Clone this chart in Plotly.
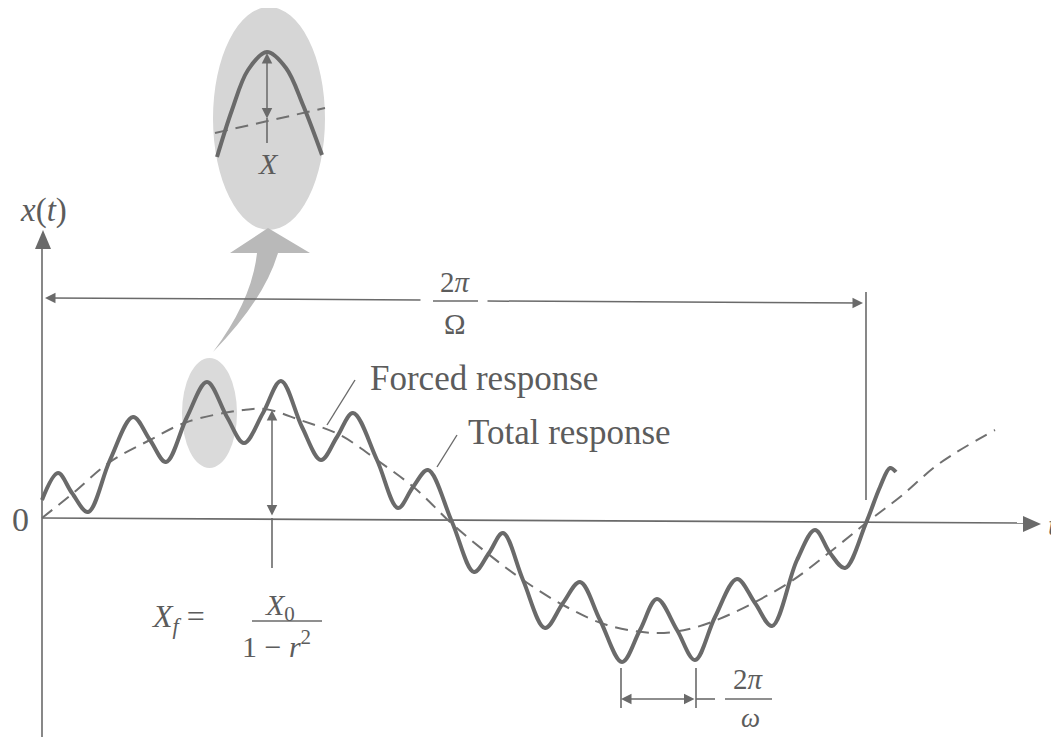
import plotly.graph_objects as go

# total response (solid) and forced response (dashed);
# t and x are measured from the origin of the plot
total_t = [0, 16, 30, 46, 68, 91, 108, 124, 145, 165, 185, 202, 221, 239, 260, 279,
           295, 311, 335, 356, 371, 386, 410, 432, 447, 461, 481, 503, 521, 538, 558,
           580, 598, 615, 635, 653, 673, 695, 713, 730, 755, 773, 788, 803, 824, 838,
           848, 854]
total_x = [19, 46, 26, 7, 59, 102, 79, 57, 102, 137, 102, 76, 106, 138, 92, 59,
           82, 106, 59, 11, 32, 49, -3, -53, -34, -14, -61, -109, -84, -63, -101,
           -143, -111, -80, -111, -141, -98, -60, -84, -107, -41, -11, -34, -49, -4, 32,
           51, 47]

forced_t = [0, 30, 68, 108, 145, 201, 223, 258, 298, 335, 375, 408, 445, 481, 521,
            565, 615, 651, 691, 748, 788, 824, 858, 898, 953]
forced_x = [1, 25, 57, 79, 97, 109, 110, 99, 84, 59, 29, -3, -34, -61, -86,
            -106, -114, -109, -94, -63, -33, -4, 22, 56, 89]

# magnified peak in the bubble
zoom_t = [175, 190, 206, 225, 244, 261, 280]
zoom_x = [362, 409, 449, 467, 451, 414, 364]
zoom_mean_t = [173, 283]
zoom_mean_x = [386, 411]

X0, Y0 = 42, 519  # origin position on the page
PAD = 8           # the page body margin shifts the figure by this much


def p(u, v):
    return u - X0, Y0 - v


def P(u, v):
    t, x = p(u, v)
    return f"{t},{x}"


gray = '#6a6a6a'
txtcol = '#5c5c5c'
serif = 'Liberation Serif'

fig = go.Figure()
fig.add_trace(go.Scatter(x=forced_t, y=forced_x, mode='lines', line_shape='spline',
                         line=dict(color='#707070', width=2, dash='13px,8px')))
fig.add_trace(go.Scatter(x=total_t, y=total_x, mode='lines', line_shape='spline',
                         line=dict(color=gray, width=4)))
fig.add_trace(go.Scatter(x=zoom_mean_t, y=zoom_mean_x, mode='lines',
                         line=dict(color='#707070', width=2, dash='13px,8px')))
fig.add_trace(go.Scatter(x=zoom_t, y=zoom_x, mode='lines', line_shape='spline',
                         line=dict(color=gray, width=4)))

shapes = []


def seg(u0, v0, u1, v1, w=1.6, c=gray):
    a = p(u0, v0)
    b = p(u1, v1)
    shapes.append(dict(type='line', xref='x', yref='y', x0=a[0], y0=a[1], x1=b[0], y1=b[1],
                       line=dict(color=c, width=w), layer='below'))


def blob(u0, v0, u1, v1, c):
    a = p(u0, v1)
    b = p(u1, v0)
    shapes.append(dict(type='circle', xref='x', yref='y', x0=a[0], y0=a[1], x1=b[0], y1=b[1],
                       fillcolor=c, line=dict(width=0), layer='below'))


def tri(path, c=gray):
    shapes.append(dict(type='path', xref='x', yref='y', path=path, fillcolor=c,
                       line=dict(width=0), layer='below'))


# shaded bubbles and the curved pointer
blob(213, 7, 325, 230, '#d6d6d6')
blob(182, 358, 237, 468, '#dadada')
tri(f"M {P(213,352)} Q {P(252,300)} {P(257,253)} L {P(230,253)} L {P(268,228)} "
    f"L {P(310,253)} L {P(278,253)} Q {P(264,300)} {P(213,352)} Z", '#b9b9b9')

# axes
seg(42, 518, 1025, 523)
tri(f"M {P(1041,524)} L {P(1023,516)} L {P(1023,532)} Z")
seg(42, 760, 42, 247)
tri(f"M {P(43,230)} L {P(35,249)} L {P(51,249)} Z")

# period of the forcing
seg(866, 292, 866, 500)
# X_f marker continues below the axis
seg(272, 518, 272, 568)
# inset arrow stem
seg(267, 118, 267, 143)
# 2pi/omega ticks
seg(621, 668, 621, 708)
seg(696, 668, 696, 708)
seg(696, 699, 715, 699)
# leader lines
seg(355, 380, 327, 425, w=1.4)
seg(457, 435, 437, 467, w=1.4)
# fraction bars
seg(433, 301, 478, 301, w=1.4)
seg(725, 699, 772, 699, w=1.4)
seg(252, 621, 322, 621, w=1.4)

anns = []


def arrow(tip, tail, both=False):
    a = p(*tip)
    b = p(*tail)
    d = dict(x=a[0], y=a[1], ax=b[0], ay=b[1], xref='x', yref='y', axref='x', ayref='y',
             text='', showarrow=True, arrowhead=2, arrowsize=1.4, arrowwidth=1.5,
             arrowcolor=gray, standoff=0)
    if both:
        d.update(arrowside='end+start', startarrowhead=2, startarrowsize=1.4, startstandoff=0)
    anns.append(d)


def label(u, v, s, size=35, xa='center', ya='middle'):
    t, x = p(u, v)
    anns.append(dict(x=t, y=x, xref='x', yref='y', text=s, showarrow=False,
                     xanchor=xa, yanchor=ya,
                     font=dict(family=serif, size=size, color=txtcol)))


arrow((45, 298), (422, 300))
arrow((863, 303), (486, 301))
arrow((272, 410), (272, 517), both=True)
arrow((267, 53), (267, 120), both=True)
arrow((621, 699), (696, 699), both=True)

label(43, 210, '<i>x</i>(<i>t</i>)', size=33)
label(20, 519, '0', size=34)
label(1046, 524, '<i>t</i>', size=30, xa='left')
label(455, 282, '2<i>π</i>', size=29)
label(455, 324, 'Ω', size=29)
label(368, 378, 'Forced response', xa='left')
label(466, 432, 'Total response', xa='left')
label(268, 163, '<i>X</i>', size=30)
label(178, 618, '<i>X<sub>f</sub></i> =', size=32)
label(280, 607, '<i>X</i><sub>0</sub>', size=30)
label(276, 644, '1 − <i>r</i><sup>2</sup>', size=30)
label(748, 679, '2<i>π</i>', size=29)
label(750, 735, '<i>ω</i>', size=27, ya='bottom')

fig.update_layout(
    width=1059, height=737,
    margin=dict(l=0, r=0, t=0, b=0),
    paper_bgcolor='white', plot_bgcolor='white',
    showlegend=False,
    xaxis=dict(range=[-(X0 - PAD), 1059 - (X0 - PAD)], visible=False),
    yaxis=dict(range=[Y0 - PAD - 737, Y0 - PAD], visible=False),
    shapes=shapes, annotations=anns,
)

fig.write_html("out.html")
